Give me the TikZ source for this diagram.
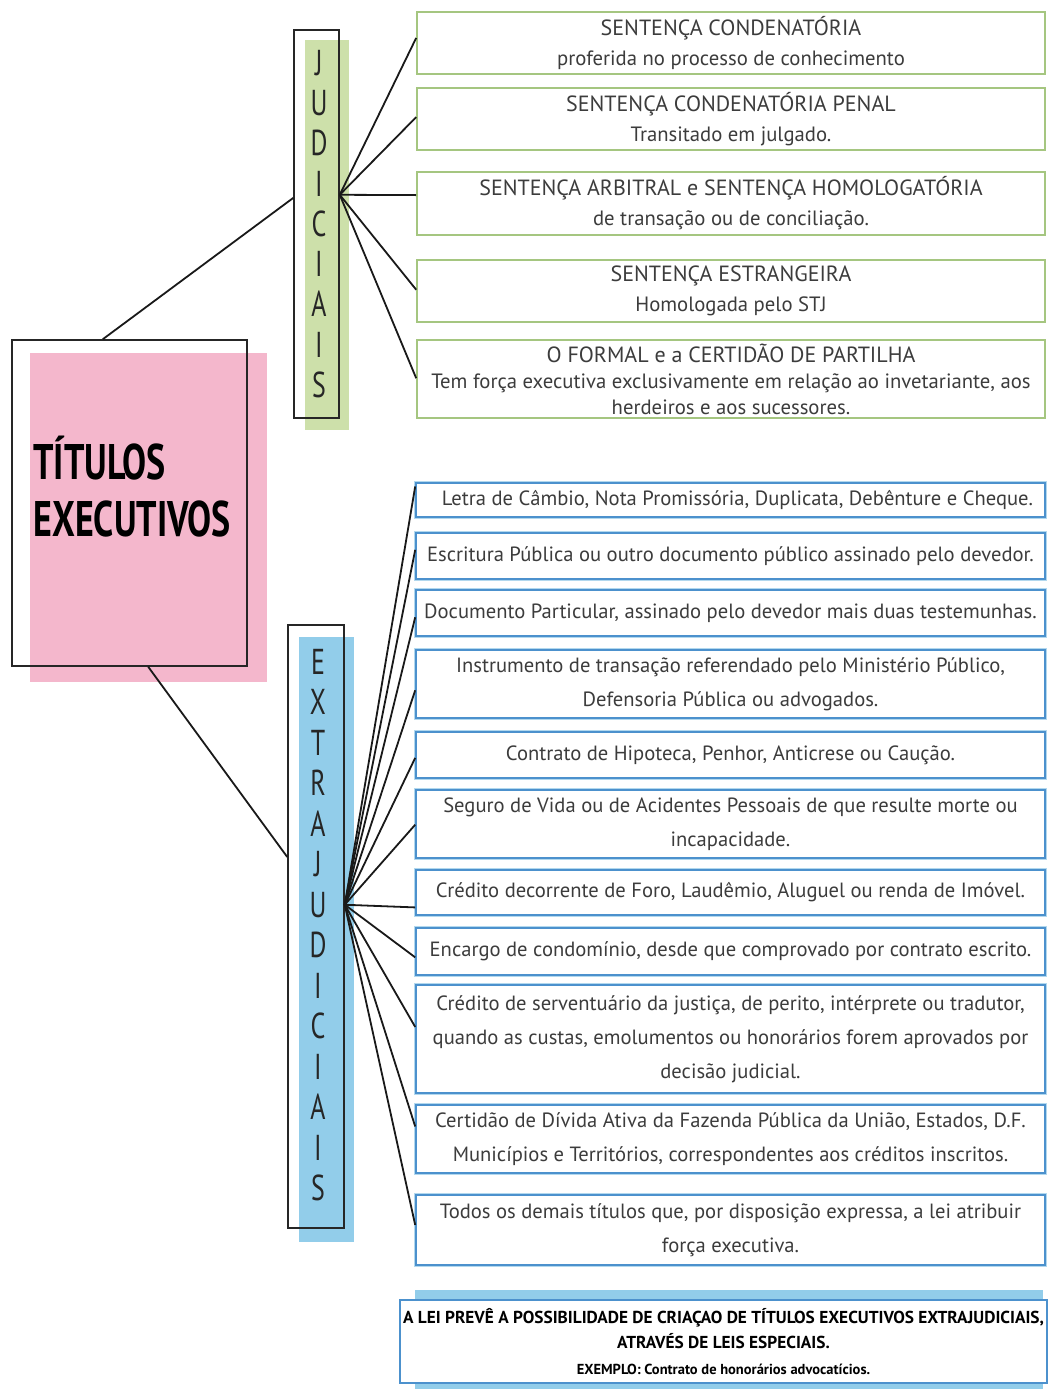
\documentclass[tikz,border=0pt]{standalone}
\usepackage{fontspec}
\setmainfont{PT Sans}
\newfontfamily\condfont{PT Sans}[FakeStretch=0.72]
\usetikzlibrary{calc}
\definecolor{pinkf}{RGB}{244,183,204}
\definecolor{greenf}{RGB}{205,224,170}
\definecolor{greenb}{RGB}{165,198,128}
\definecolor{bluef}{RGB}{146,205,234}
\definecolor{bluelt}{RGB}{178,216,238}
\definecolor{blueb}{RGB}{76,145,205}
\definecolor{txt}{RGB}{60,60,60}
\tikzset{
  jbox/.style={draw=greenb, line width=1.6pt, fill=white, minimum width=628pt, inner sep=0pt, align=center, text=txt, font=\fontsize{20.7}{30}\selectfont},
  xbox/.style={preaction={draw=bluelt, line width=4.5pt}, draw=blueb, line width=1.6pt, fill=white, minimum width=629pt, inner sep=0pt, align=center, text=txt, font=\fontsize{20.6}{34}\selectfont},
  outl/.style={draw=black!85, line width=1.5pt, inner sep=0pt},
  link/.style={draw=black!90, line width=1.8pt},
  vlet/.style={align=center, text=black!85, font=\condfont\fontsize{36}{40.3}\selectfont}
}
\newcommand{\capt}[1]{{\fontsize{22}{30}\selectfont #1}}
\begin{document}
\begin{tikzpicture}[x=1pt,y=-1pt]
\useasboundingbox (0,0) rectangle (1047,1389);
% title
\fill[pinkf] (30,353) rectangle (267,682);
\node[outl, minimum width=235pt, minimum height=326pt] (title) at (129.5,503) {};
\node[anchor=west, align=left, font=\condfont\bfseries\fontsize{50}{57}\selectfont, text=black] (titletext) at (30,487) {TÍTULOS\\EXECUTIVOS};
% judiciais column
\fill[greenf] (305,40) rectangle (349,430);
\node[outl, minimum width=45pt, minimum height=388pt] (jud) at (316.5,224) {};
\node[vlet] (judtext) at (319,224) {J\\U\\D\\I\\C\\I\\A\\I\\S};
% extrajudiciais column
\fill[bluef] (299,637) rectangle (354,1242);
\node[outl, minimum width=56pt, minimum height=603pt] (ext) at (316,926.5) {};
\node[vlet, font=\condfont\fontsize{36}{40.5}\selectfont] (exttext) at (318,925) {E\\X\\T\\R\\A\\J\\U\\D\\I\\C\\I\\A\\I\\S};
% judicial boxes
\node[jbox, minimum height=62pt] (j1) at (731,43) {\capt{SENTENÇA CONDENATÓRIA}\\proferida no processo de conhecimento};
\node[jbox, minimum height=62pt] (j2) at (731,119) {\capt{SENTENÇA CONDENATÓRIA PENAL}\\Transitado em julgado.};
\node[jbox, minimum height=63pt] (j3) at (731,203.5) {\capt{SENTENÇA ARBITRAL e SENTENÇA HOMOLOGATÓRIA}\\de transação ou de conciliação.};
\node[jbox, minimum height=62pt] (j4) at (731,291) {\capt{SENTENÇA ESTRANGEIRA}\\Homologada pelo STJ};
\node[jbox, minimum height=78pt, font=\fontsize{20.7}{26}\selectfont] (j5) at (731,379) {{\fontsize{22}{26}\selectfont O FORMAL e a CERTIDÃO DE PARTILHA}\\Tem força executiva exclusivamente em relação ao invetariante, aos\\herdeiros e aos sucessores.};
% extrajudicial boxes
\node[xbox, minimum height=34pt] (x1) at (730.5,500) {\hspace{14pt}Letra de Câmbio, Nota Promissória, Duplicata, Debênture e Cheque.};
\node[xbox, minimum height=46pt] (x2) at (730.5,556) {Escritura Pública ou outro documento público assinado pelo devedor.};
\node[xbox, minimum height=46pt] (x3) at (730.5,613) {Documento Particular, assinado pelo devedor mais duas testemunhas.};
\node[xbox, minimum height=68pt] (x4) at (730.5,684) {Instrumento de transação referendado pelo Ministério Público,\\Defensoria Pública ou advogados.};
\node[xbox, minimum height=46pt] (x5) at (730.5,755) {Contrato de Hipoteca, Penhor, Anticrese ou Caução.};
\node[xbox, minimum height=68pt] (x6) at (730.5,824) {Seguro de Vida ou de Acidentes Pessoais de que resulte morte ou\\incapacidade.};
\node[xbox, minimum height=45pt] (x7) at (730.5,892.5) {Crédito decorrente de Foro, Laudêmio, Aluguel ou renda de Imóvel.};
\node[xbox, minimum height=47pt] (x8) at (730.5,951.5) {Encargo de condomínio, desde que comprovado por contrato escrito.};
\node[xbox, minimum height=108pt] (x9) at (730.5,1039) {Crédito de serventuário da justiça, de perito, intérprete ou tradutor,\\quando as custas, emolumentos ou honorários forem aprovados por\\decisão judicial.};
\node[xbox, minimum height=68pt] (x10) at (730.5,1139) {Certidão de Dívida Ativa da Fazenda Pública da União, Estados, D.F.\\Municípios e Territórios, correspondentes aos créditos inscritos.};
\node[xbox, minimum height=70pt] (x11) at (730.5,1230) {Todos os demais títulos que, por disposição expressa, a lei atribuir\\força executiva.};
% note box
\fill[bluef] (415,1290) rectangle (1043,1389);
\node[draw=blueb, line width=1.8pt, fill=white, minimum width=647pt, minimum height=83pt, inner sep=0pt, align=center, text=black, font=\bfseries\fontsize{17.3}{25.5}\selectfont] (note) at (723.5,1341.5) {A LEI PREVÊ A POSSIBILIDADE DE CRIAÇAO DE TÍTULOS EXECUTIVOS EXTRAJUDICIAIS,\\ATRAVÉS DE LEIS ESPECIAIS.\\{\fontsize{14.5}{25.5}\selectfont EXEMPLO: Contrato de honorários advocatícios.}};
% connectors from title
\draw[link] ($(title.north west)!0.387!(title.north east)$) -- ($(jud.north west)!0.433!(jud.south west)$);
\draw[link] ($(title.south west)!0.579!(title.south east)$) -- ($(ext.north west)!0.385!(ext.south west)$);
% judicial hub
\coordinate (jh) at ($(jud.north east)!0.425!(jud.south east)$);
\foreach \b/\f in {j1/0.42, j2/0.47, j3/0.37, j4/0.48, j5/0.49} {
  \draw[link] (jh) -- ($(\b.north west)!\f!(\b.south west)$);
}
% extrajudicial hub
\coordinate (xh) at ($(ext.north east)!0.464!(ext.south east)$);
\foreach \b/\f in {x1/0.12, x2/0.37, x3/0.59, x4/0.59, x5/0.56, x6/0.51, x7/0.82, x8/0.62, x9/0.39, x10/0.32, x11/0.43} {
  \draw[link] (xh) -- ($(\b.north west)!\f!(\b.south west)$);
}
\end{tikzpicture}
\end{document}
